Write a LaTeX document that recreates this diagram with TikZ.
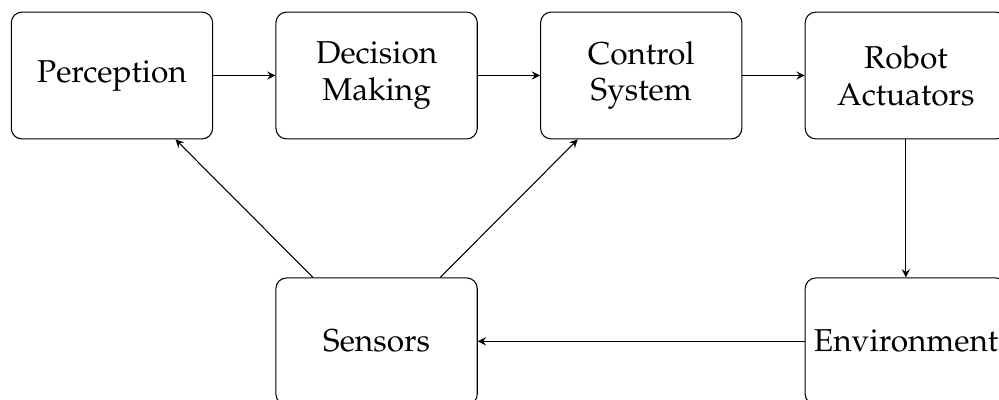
\documentclass[tikz,border=0pt]{standalone}
\usepackage[T1]{fontenc}
\usepackage{mathpazo}
\usepackage{tikz}
\usetikzlibrary{shapes,arrows,positioning,calc}

\tikzset{
  block/.style={draw, rectangle, rounded corners, text width=2.45cm, minimum height=1.69cm, align=center, font=\large},
  flow/.style={->, >=stealth}
}

\begin{document}
\begin{tikzpicture}[node distance=0.83cm]
% page frame
\clip (-1.493,1.007) rectangle ++(13.32,-5.333);

% top row
\node[block] (perception) at (0,0) {Perception};
\node[block, right=of perception] (decision) {Decision\\Making};
\node[block, right=of decision] (control) {Control\\System};
\node[block, right=of control] (actuators) {Robot\\Actuators};

% bottom row
\node[block, below=1.84cm of decision] (sensors) {Sensors};
\node[block, below=1.84cm of actuators] (environment) {Environment};

% connections
\draw[flow] (perception) -- (decision);
\draw[flow] (decision) -- (control);
\draw[flow] (control) -- (actuators);
\draw[flow] (actuators) -- (environment);
\draw[flow] (environment) -- (sensors);
\draw[flow] (sensors) -- (perception);
\draw[flow] (sensors) -- (control);

\end{tikzpicture}
\end{document}
